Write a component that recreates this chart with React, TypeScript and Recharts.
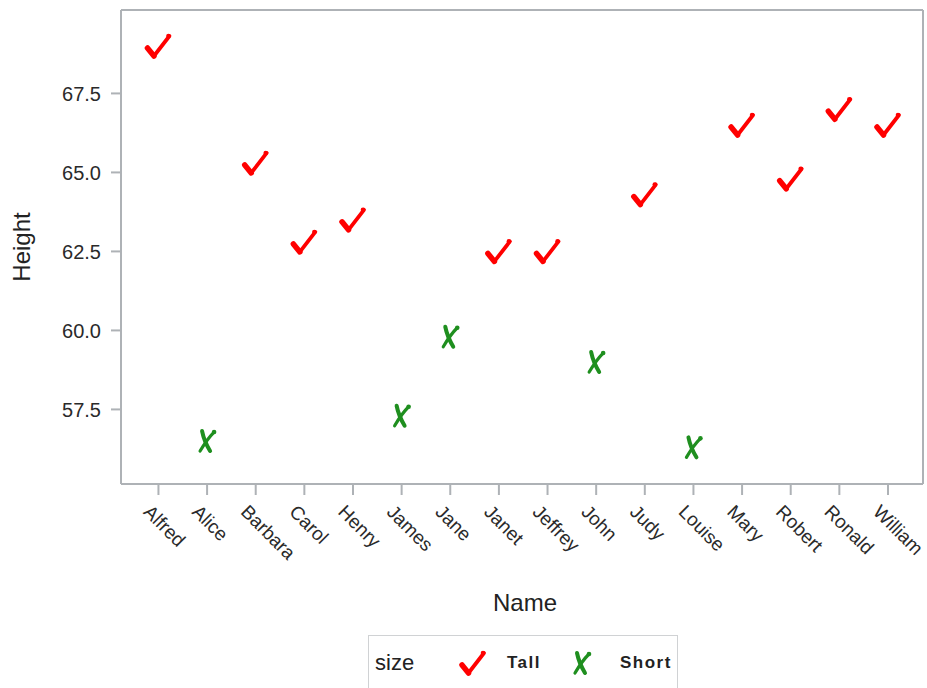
import { ReferenceLine, Scatter, ScatterChart, XAxis, YAxis } from 'recharts'

const names = [
  'Alfred', 'Alice', 'Barbara', 'Carol', 'Henry', 'James', 'Jane', 'Janet',
  'Jeffrey', 'John', 'Judy', 'Louise', 'Mary', 'Robert', 'Ronald', 'William',
]
const heights = [69.0, 56.5, 65.3, 62.8, 63.5, 57.3, 59.8, 62.5, 62.5, 59.0, 64.3, 56.3, 66.5, 64.8, 67.0, 66.5]
const sizes = [
  'Tall', 'Short', 'Tall', 'Tall', 'Tall', 'Short', 'Short', 'Tall',
  'Tall', 'Short', 'Tall', 'Short', 'Tall', 'Tall', 'Tall', 'Tall',
]
const yTicks = [57.5, 60.0, 62.5, 65.0, 67.5]

const points = names.map((name, i) => ({ idx: i, name, height: heights[i], size: sizes[i] }))
const tall = points.filter((p) => p.size === 'Tall')
const short = points.filter((p) => p.size === 'Short')

const xTicks = names.map((_, i) => i)
const xDomain = [-0.77, 15.72]
const yDomain = [55.14, 70.14]

const font = '"Liberation Sans", Arial, sans-serif'
const axisColor = '#aeb2b6'
const red = '#ff0000'
const green = '#1f8f1f'

function CheckMark({ cx, cy }: any) {
  return (
    <g>
      <path d={`M${cx - 11},${cy + 2} L${cx - 4.5},${cy + 10}`} stroke={red} strokeWidth={5.5} strokeLinecap="round" fill="none" />
      <path d={`M${cx - 4.5},${cy + 10} L${cx + 11},${cy - 10}`} stroke={red} strokeWidth={3.8} strokeLinecap="round" fill="none" />
      <circle cx={cx + 10} cy={cy - 10} r={2.3} fill={red} />
    </g>
  )
}

function XMark({ cx, cy }: any) {
  return (
    <g fill="none" stroke={green} strokeLinecap="round">
      <path d={`M${cx - 5},${cy - 10} Q${cx - 3},${cy} ${cx + 3},${cy + 10}`} strokeWidth={4} />
      <path d={`M${cx + 7},${cy - 9} Q${cx},${cy - 2} ${cx - 7},${cy + 10}`} strokeWidth={3.2} />
      <circle cx={cx + 7} cy={cy - 9} r={2.3} fill={green} stroke="none" />
    </g>
  )
}

function NameTick({ x, y, payload }: any) {
  const x0 = x - 16
  const y0 = y + 18
  return (
    <text x={x0} y={y0} transform={`rotate(45, ${x0}, ${y0})`} textAnchor="start" fontSize={19} fontFamily={font} fill="#2a2a2a">
      {names[payload.value]}
    </text>
  )
}

function HeightTitle({ viewBox }: any) {
  const x = viewBox.x + 30
  const y = viewBox.y + viewBox.height / 2
  return (
    <text x={x} y={y} transform={`rotate(-90, ${x}, ${y})`} textAnchor="middle" fontSize={24} fontFamily={font} fill="#222">
      Height
    </text>
  )
}

function NameTitle({ viewBox }: any) {
  const x = viewBox.x + viewBox.width / 2 + 3
  const y = viewBox.y + 127
  return (
    <text x={x} y={y} textAnchor="middle" fontSize={24} fontFamily={font} fill="#222">
      Name
    </text>
  )
}

export default function App() {
  return (
    <div style={{ position: 'absolute', left: 0, top: 0, width: 927, height: 688, background: '#fff', overflow: 'hidden' }}>
      <ScatterChart width={927} height={688} margin={{ top: 10, right: 4, bottom: 0, left: 0 }}>
        <XAxis
          dataKey="idx"
          type="number"
          domain={xDomain}
          ticks={xTicks}
          interval={0}
          height={204}
          tickSize={11}
          tickMargin={0}
          tick={<NameTick />}
          stroke={axisColor}
          strokeWidth={2}
          label={<NameTitle />}
        />
        <YAxis
          dataKey="height"
          type="number"
          domain={yDomain}
          ticks={yTicks}
          interval={0}
          width={121}
          tickSize={10}
          tickMargin={10}
          tickFormatter={(v: number) => v.toFixed(1)}
          tick={{ fontSize: 20, fontFamily: font, fill: '#2a2a2a' }}
          stroke={axisColor}
          strokeWidth={2}
          label={<HeightTitle />}
        />
        <ReferenceLine y={yDomain[1]} stroke={axisColor} strokeWidth={2} />
        <ReferenceLine x={xDomain[1]} stroke={axisColor} strokeWidth={2} />
        <Scatter name="Tall" data={tall} shape={<CheckMark />} isAnimationActive={false} />
        <Scatter name="Short" data={short} shape={<XMark />} isAnimationActive={false} />
      </ScatterChart>
      <div
        style={{
          position: 'absolute',
          left: 368,
          top: 635,
          width: 310,
          height: 70,
          border: '1.5px solid #d0d2d4',
          boxSizing: 'border-box',
          fontFamily: font,
          color: '#222',
        }}
      >
        <span style={{ position: 'absolute', left: 6, top: 14, fontSize: 22 }}>size</span>
        <svg style={{ position: 'absolute', left: 88, top: 12 }} width={30} height={30}>
          <CheckMark cx={16} cy={15} />
        </svg>
        <span style={{ position: 'absolute', left: 138, top: 17, fontSize: 17, fontWeight: 'bold', letterSpacing: 1.5 }}>Tall</span>
        <svg style={{ position: 'absolute', left: 198, top: 12 }} width={30} height={30}>
          <XMark cx={15} cy={15} />
        </svg>
        <span style={{ position: 'absolute', left: 251, top: 17, fontSize: 17, fontWeight: 'bold', letterSpacing: 1.5 }}>Short</span>
      </div>
    </div>
  )
}
